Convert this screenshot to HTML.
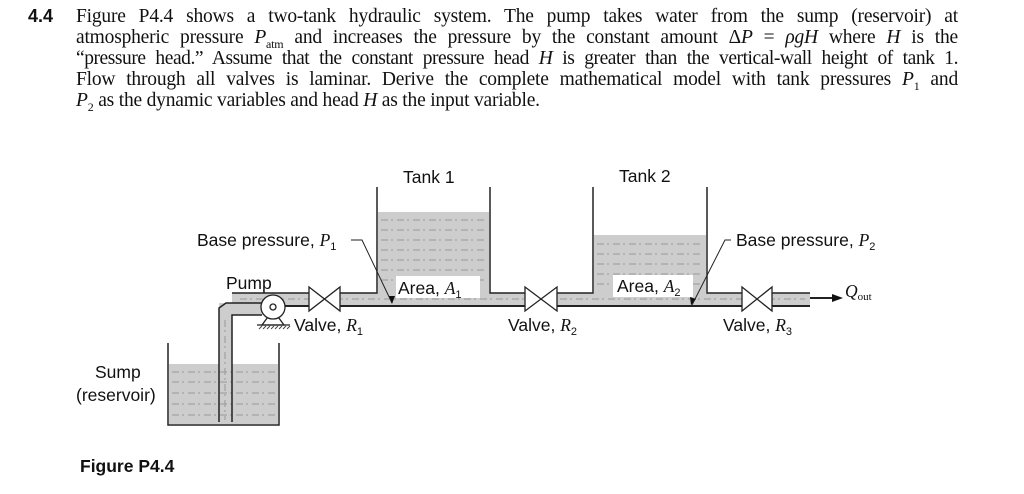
<!DOCTYPE html>
<html><head><meta charset="utf-8"><style>
body{margin:0;width:1024px;height:494px;background:#fff;overflow:hidden;position:relative}
.t{position:absolute;left:76px;width:882px;font-family:"Liberation Serif",serif;font-size:19.5px;line-height:21px;color:#111;letter-spacing:-0.2px}
.l{text-align:justify;text-align-last:justify;white-space:nowrap;height:21px}
.n{position:absolute;left:28px;top:6px;font:bold 18px "Liberation Sans",sans-serif;color:#111}
svg{position:absolute;left:0;top:0}
sub{font-size:12px;line-height:0}
</style></head><body>
<div class="n">4.4</div>
<div class="t" style="top:6px">
<div class="l">Figure P4.4 shows a two-tank hydraulic system. The pump takes water from the sump (reservoir) at</div>
<div class="l">atmospheric pressure <i>P</i><sub>atm</sub> and increases the pressure by the constant amount Δ<i>P</i> = <i>ρgH</i> where <i>H</i> is the</div>
<div class="l" style="letter-spacing:-0.45px">“pressure head.” Assume that the constant pressure head <i>H</i> is greater than the vertical-wall height of tank 1.</div>
<div class="l">Flow through all valves is laminar. Derive the complete mathematical model with tank pressures <i>P</i><sub>1</sub> and</div>
<div style="height:21px;white-space:nowrap"><i>P</i><sub>2</sub> as the dynamic variables and head <i>H</i> as the input variable.</div>
</div>
<svg width="1024" height="494" font-family="Liberation Sans, sans-serif" font-size="17.5" fill="#111">
<g fill="#cdcdcd" stroke="none">
<rect x="169" y="364" width="109" height="60"/>
<rect x="378" y="212" width="111" height="94"/>
<rect x="594" y="235" width="112" height="71"/>
<rect x="232" y="293" width="578" height="13"/>
<rect x="219" y="303" width="13" height="120"/>
<rect x="219" y="303" width="45" height="12"/>
</g>
<g stroke="#999" stroke-width="1" stroke-dasharray="7 3 2 4">
<line x1="172" y1="372" x2="275" y2="372"/><line x1="172" y1="382" x2="275" y2="382"/><line x1="172" y1="393" x2="275" y2="393"/><line x1="172" y1="404" x2="275" y2="404"/><line x1="172" y1="415" x2="275" y2="415"/>
<line x1="381" y1="220" x2="486" y2="220"/><line x1="381" y1="230" x2="486" y2="230"/><line x1="381" y1="240" x2="486" y2="240"/><line x1="381" y1="250" x2="486" y2="250"/><line x1="381" y1="260" x2="486" y2="260"/><line x1="381" y1="270" x2="486" y2="270"/><line x1="381" y1="280" x2="486" y2="280"/>
<line x1="597" y1="244" x2="703" y2="244"/><line x1="597" y1="254" x2="703" y2="254"/><line x1="597" y1="264" x2="703" y2="264"/><line x1="597" y1="274" x2="703" y2="274"/><line x1="597" y1="284" x2="703" y2="284"/>
<line x1="240" y1="299" x2="805" y2="299"/>
<line x1="225" y1="320" x2="225" y2="420"/>
</g>
<g stroke="#222" stroke-width="1.5" fill="none">
<polyline points="168,343 168,425 279,425 279,343"/>
<polyline points="232,293 377,293 377,187"/>
<polyline points="490,187 490,293 593,293 593,187"/>
<polyline points="707,187 707,293 810,293"/>
<line x1="262" y1="306" x2="810" y2="306" stroke-width="2"/>
<polyline points="219,422 219,308 226,303 262,303"/>
<polyline points="232,422 232,315 262,315"/>
</g>
<g fill="#fff" stroke="none">
<rect x="309" y="286" width="31" height="26"/>
<rect x="525" y="286" width="32" height="26"/>
<rect x="742" y="286" width="30" height="26"/>
</g>
<g stroke="#222" stroke-width="1.3" fill="#fff">
<path d="M309,287 L340,311 L340,287 L309,311 Z"/>
<path d="M525,287 L557,311 L557,287 L525,311 Z"/>
<path d="M742,287 L772,311 L772,287 L742,311 Z"/>
<polygon points="262,325 284,325 273,310"/>
<circle cx="273" cy="307" r="12"/>
<circle cx="273" cy="307" r="3"/>
<line x1="257" y1="325" x2="290" y2="325"/>
</g>
<g stroke="#444" stroke-width="1">
<line x1="259" y1="329" x2="262" y2="326"/><line x1="263" y1="329" x2="266" y2="326"/><line x1="267" y1="329" x2="270" y2="326"/><line x1="271" y1="329" x2="274" y2="326"/><line x1="275" y1="329" x2="278" y2="326"/><line x1="279" y1="329" x2="282" y2="326"/><line x1="283" y1="329" x2="286" y2="326"/><line x1="287" y1="329" x2="290" y2="326"/>
</g>
<g stroke="#222" stroke-width="1" fill="none">
<polyline points="351,240 362,240 392,303"/>
<polyline points="731,240 725,240 692,305"/>
<line x1="810" y1="298" x2="836" y2="298" stroke-width="2"/>
</g>
<polygon points="843,298 832,294 832,302" fill="#111"/>
<polygon points="389,296 395,296 392,304" fill="#111"/>
<polygon points="690,297 696,299 691,305" fill="#111"/>
<rect x="396" y="276" width="84" height="22" fill="#fff"/>
<rect x="613" y="275" width="80" height="22" fill="#fff"/>
<text x="403" y="183">Tank 1</text>
<text x="619" y="182">Tank 2</text>
<text x="197" y="246">Base pressure, <tspan font-family="Liberation Serif" font-style="italic">P</tspan><tspan font-size="11" dy="4">1</tspan></text>
<text x="736" y="246">Base pressure, <tspan font-family="Liberation Serif" font-style="italic">P</tspan><tspan font-size="11" dy="4">2</tspan></text>
<text x="226" y="289">Pump</text>
<text x="398" y="294">Area, <tspan font-family="Liberation Serif" font-style="italic">A</tspan><tspan font-size="11" dy="4">1</tspan></text>
<text x="617" y="292">Area, <tspan font-family="Liberation Serif" font-style="italic">A</tspan><tspan font-size="11" dy="4">2</tspan></text>
<text x="294" y="331">Valve, <tspan font-family="Liberation Serif" font-style="italic">R</tspan><tspan font-size="11" dy="4">1</tspan></text>
<text x="508" y="331">Valve, <tspan font-family="Liberation Serif" font-style="italic">R</tspan><tspan font-size="11" dy="4">2</tspan></text>
<text x="723" y="331">Valve, <tspan font-family="Liberation Serif" font-style="italic">R</tspan><tspan font-size="11" dy="4">3</tspan></text>
<text x="845" y="297" font-family="Liberation Serif" font-style="italic">Q<tspan font-style="normal" font-size="11" dy="3">out</tspan></text>
<text x="95" y="378">Sump</text>
<text x="76" y="401">(reservoir)</text>
<text x="80" y="472" font-weight="bold" font-size="17.5">Figure P4.4</text>
</svg>
</body></html>
